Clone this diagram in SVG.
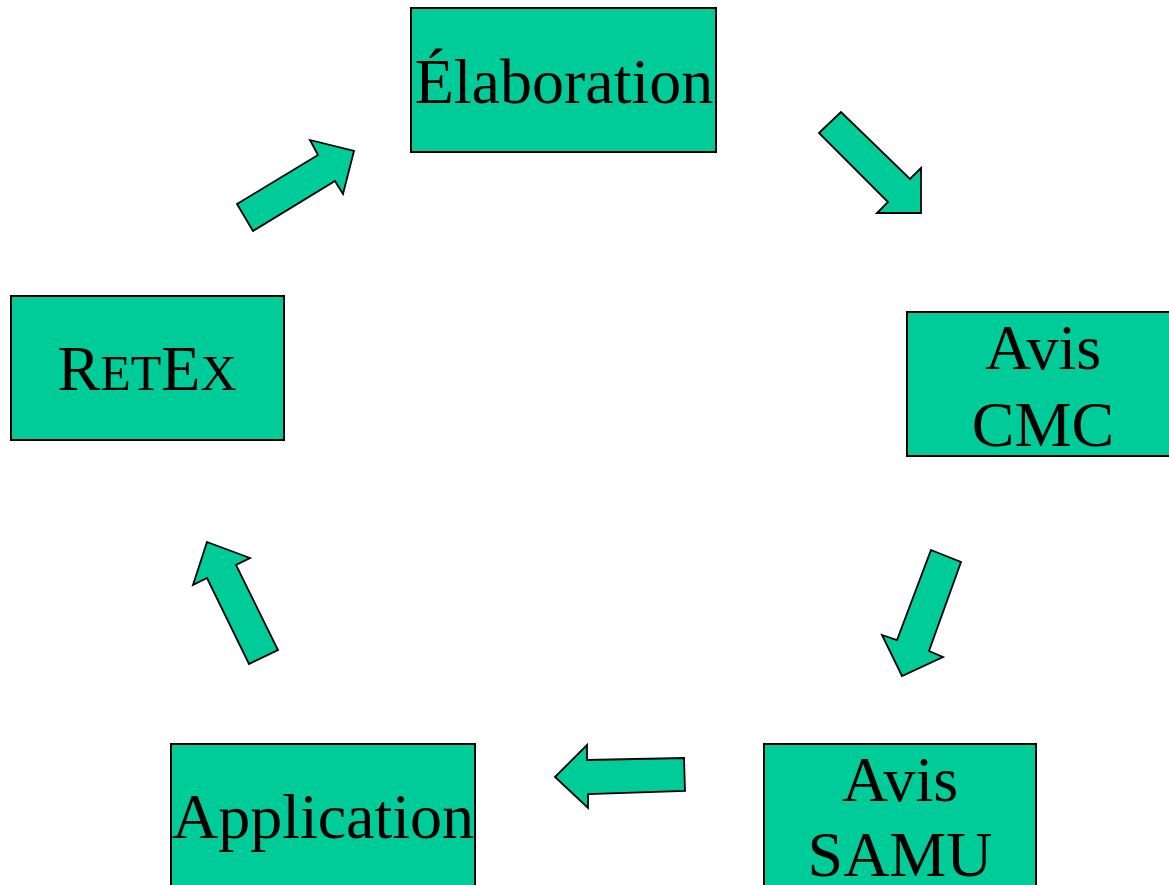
<svg xmlns="http://www.w3.org/2000/svg" width="1169" height="885" viewBox="0 0 1169 885">
<style>
.box{fill:#00CC99;stroke:#000;stroke-width:2}
.arr{fill:#00CC99;stroke:#000;stroke-width:1.8;stroke-linejoin:miter}
.t{font-family:"Liberation Serif","Times New Roman",serif;font-size:64px;fill:#000;text-anchor:middle}
</style>
<rect width="1169" height="885" fill="#fff"/>
<g id="elaboration">
<rect class="box" x="411" y="8" width="305" height="144"/>
<text class="t" x="564" y="103">Élaboration</text>
</g>
<g id="avis-cmc">
<rect class="box" x="907" y="312" width="275" height="144"/>
<text class="t" x="1043" y="369">Avis</text>
<text class="t" x="1043" y="446">CMC</text>
</g>
<g id="avis-samu">
<rect class="box" x="764" y="744" width="272" height="150"/>
<text class="t" x="900" y="801">Avis</text>
<text class="t" x="900" y="876">SAMU</text>
</g>
<g id="application">
<rect class="box" x="171" y="744" width="304" height="150"/>
<text class="t" x="323" y="838">Application</text>
</g>
<g id="retex">
<rect class="box" x="11" y="296" width="273" height="144"/>
<text class="t" x="147" y="390">R<tspan font-size="50">ET</tspan>E<tspan font-size="50">X</tspan></text>
</g>
<g id="connectors">
<polygon class="arr" points="237,204 318,155 310,140 354,151 343,194 335,181 253,231"/>
<polygon class="arr" points="819,133 841,112 910,179 921,168 921,213 877,213 888,202"/>
<polygon class="arr" points="931,550 961,562 929,651 943,657 902,676 882,635 897,640"/>
<polygon class="arr" points="555,777 587,745 587,760 684,758 685,791 588,794 588,808"/>
<polygon class="arr" points="207,542 250,558 236,565 278,650 249,664 207,578 193,585"/>
</g>
</svg>
